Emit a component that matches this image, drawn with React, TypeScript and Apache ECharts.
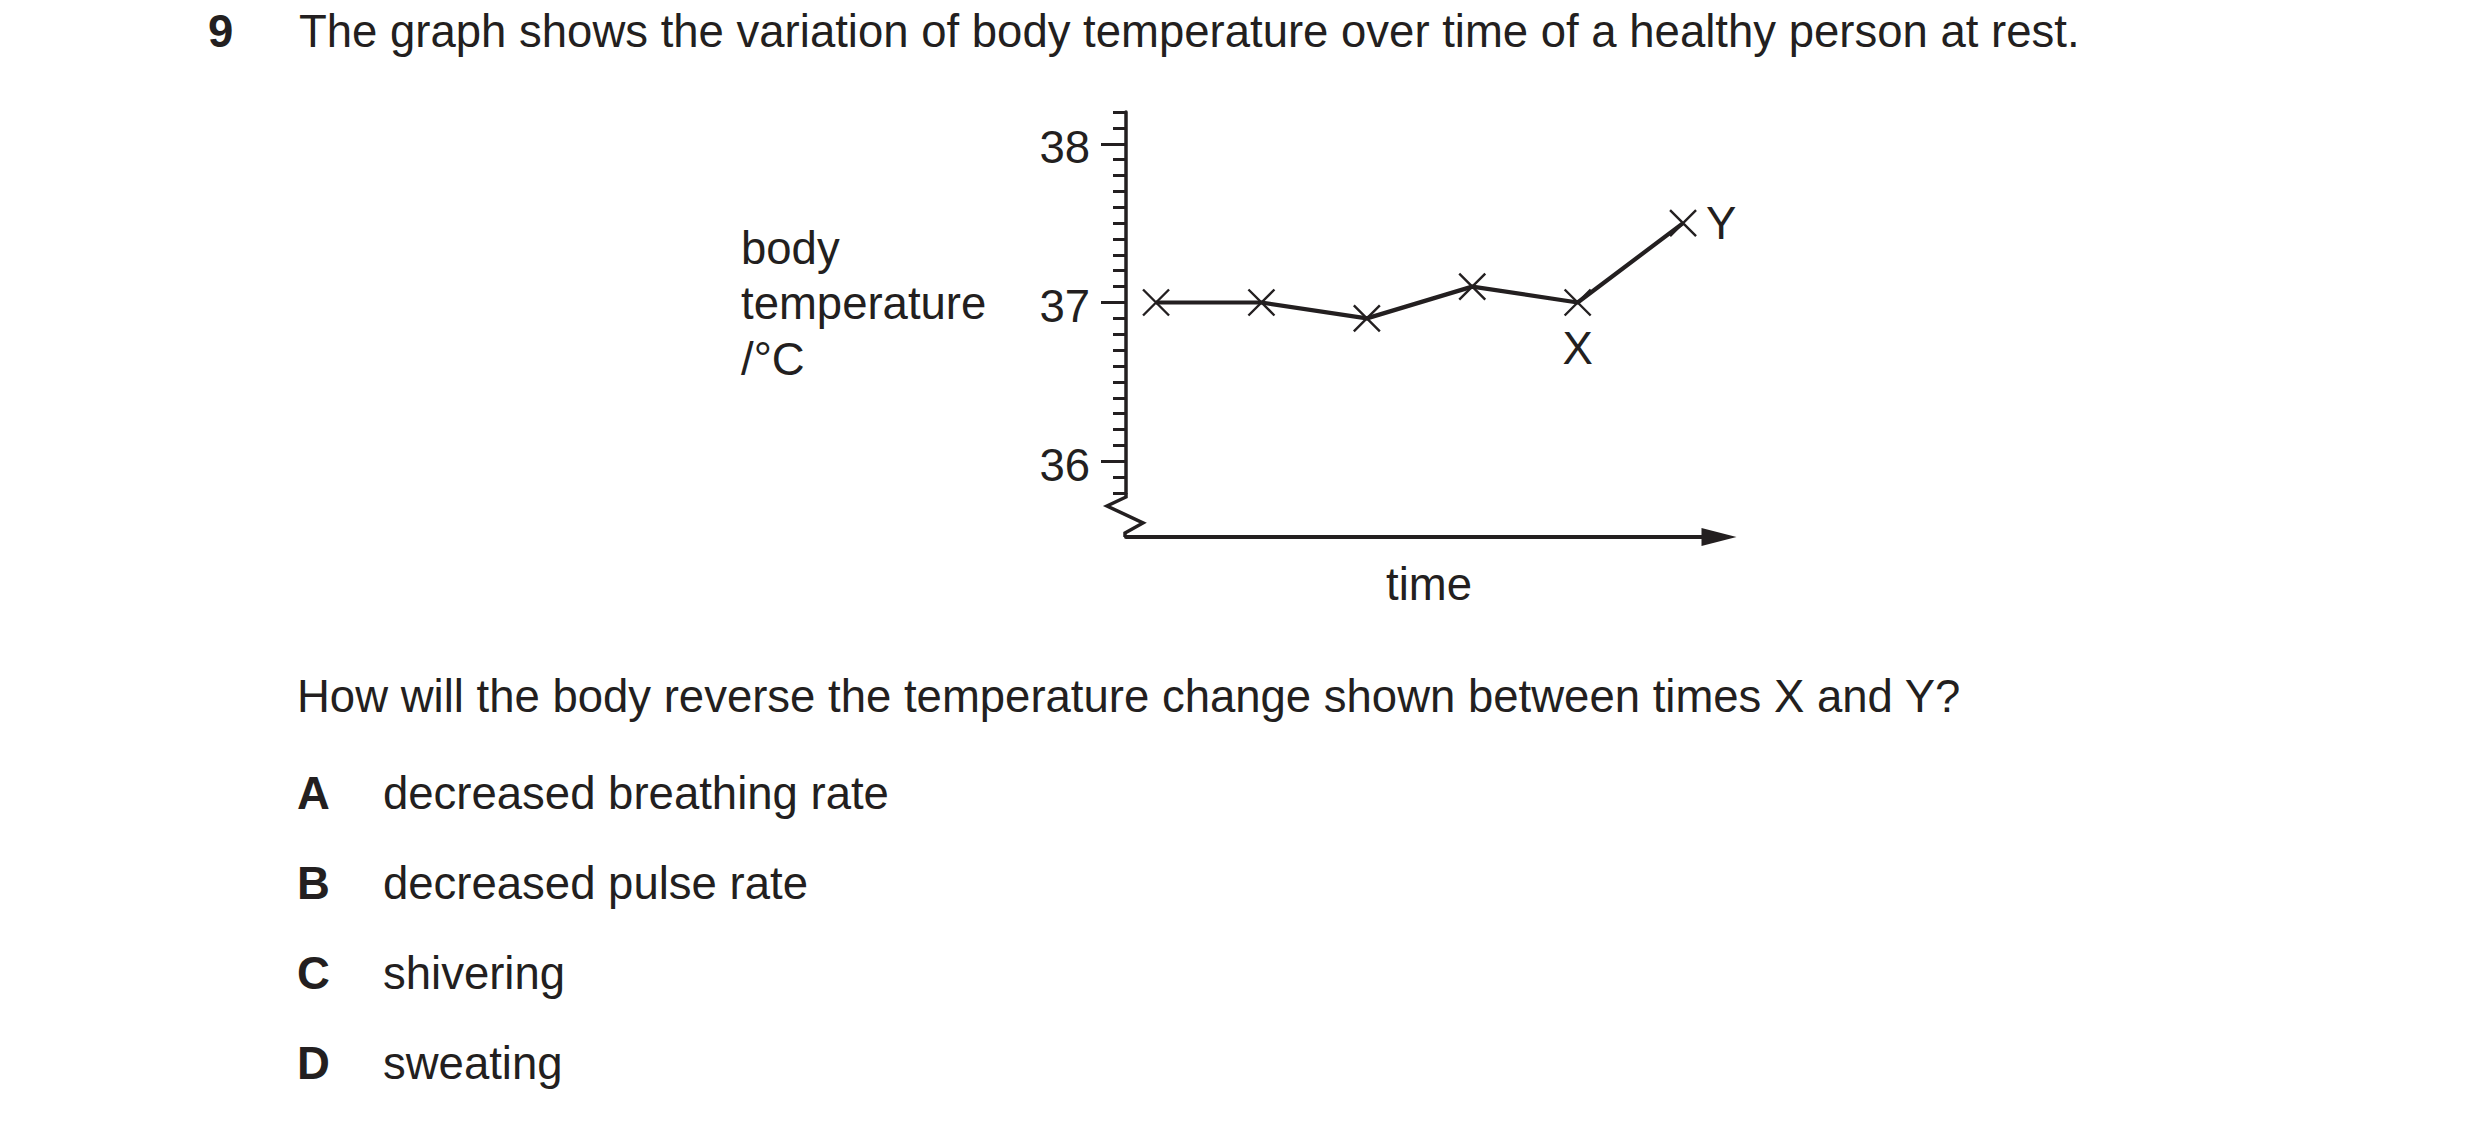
import { useEffect, useRef } from "react";
import * as echarts from "echarts";

// question text
const questionNumber = "9";
const questionText =
  "The graph shows the variation of body temperature over time of a healthy person at rest.";
const promptText =
  "How will the body reverse the temperature change shown between times X and Y?";
const answerLetters = ["A", "B", "C", "D"];
const answerTexts = [
  "decreased breathing rate",
  "decreased pulse rate",
  "shivering",
  "sweating",
];

// graph data
const times = [1, 2, 3, 4, 5, 6];
const temperatures = [37.0, 37.0, 36.9, 37.1, 37.0, 37.5];
const pointLabels = ["", "", "", "", "X", "Y"];
const majorTicks = [36, 37, 38];
const yTitleLines = ["body", "temperature", "/°C"];
const xTitle = "time";

const INK = "#231f20";
const FONT = "'Liberation Sans', Arial, Helvetica, sans-serif";
const FS = 45.5;
const W = 2480;
const H = 1127;

const GRID = { left: 1126, top: 112, right: 761, bottom: 634 };
const X_AXIS_OFFSET = 44;

function textEl(text: string, x: number, y: number, opts: Record<string, unknown> = {}) {
  return {
    type: "text",
    x,
    y,
    silent: true,
    style: {
      text,
      fill: INK,
      fontSize: FS,
      fontFamily: FONT,
      align: "left",
      verticalAlign: "middle",
      ...opts,
    },
  };
}

function buildOption(): echarts.EChartsOption {
  const baseY = H - GRID.bottom;
  const x0 = GRID.left;

  const labelOffsets: Record<string, number[]> = { X: [0, 46], Y: [38, 0] };

  const graphic: any[] = [
    textEl(questionNumber, 208, 31, { fontWeight: "bold" }),
    textEl(questionText, 299, 31),
    ...yTitleLines.map((t, i) => textEl(t, 741, 248 + i * 55.5)),
    textEl(xTitle, 1429, 584, { align: "center" }),
    textEl(promptText, 297, 696),
    ...answerLetters.map((l, i) => textEl(l, 297, 793 + i * 90.3, { fontWeight: "bold" })),
    ...answerTexts.map((t, i) => textEl(t, 383, 793 + i * 90.3)),
    {
      type: "polyline",
      silent: true,
      shape: {
        points: [
          [x0, baseY],
          [x0, baseY + 4],
          [x0 - 19, baseY + 13],
          [x0 + 17, baseY + 30],
          [x0 - 1, baseY + 40],
          [x0 - 1, baseY + X_AXIS_OFFSET],
        ],
      },
      style: { stroke: INK, lineWidth: 3.5, fill: "none", lineJoin: "miter" },
    },
  ];

  return {
    animation: false,
    backgroundColor: "#ffffff",
    grid: { ...GRID, containLabel: false },
    xAxis: {
      type: "value",
      min: 0.715,
      max: 6.341,
      offset: X_AXIS_OFFSET,
      axisLine: {
        show: true,
        onZero: false,
        symbol: ["none", "triangle"],
        symbolSize: [18, 35],
        lineStyle: { color: INK, width: 4 },
      },
      axisTick: { show: false },
      axisLabel: { show: false },
      splitLine: { show: false },
    },
    yAxis: [
      {
        type: "value",
        min: 35.8,
        max: 38.2,
        interval: 0.1,
        axisLine: { show: true, lineStyle: { color: INK, width: 3.5 } },
        axisTick: { show: true, inside: false, length: 13, lineStyle: { color: INK, width: 3 } },
        axisLabel: { show: false },
        splitLine: { show: false },
      },
      {
        type: "value",
        min: 35.8,
        max: 38.2,
        position: "left",
        axisLine: { show: false },
        axisTick: {
          show: true,
          inside: false,
          length: 25,
          customValues: majorTicks,
          lineStyle: { color: INK, width: 3 },
        },
        axisLabel: {
          show: true,
          customValues: majorTicks,
          margin: 36,
          formatter: "{t|{value}}",
          rich: {
            t: {
              color: INK,
              fontSize: FS,
              fontFamily: FONT,
              padding: [8, 0, 0, 0],
            },
          },
        },
        splitLine: { show: false },
      },
    ],
    series: [
      {
        type: "line",
        yAxisIndex: 0,
        clip: false,
        data: times.map((t, i) => {
          const lbl = pointLabels[i];
          return {
            value: [t, temperatures[i]],
            label: lbl
              ? {
                  show: true,
                  formatter: lbl,
                  position: "inside",
                  offset: labelOffsets[lbl],
                  color: INK,
                  fontSize: FS,
                  fontFamily: FONT,
                }
              : { show: false },
          };
        }),
        symbol: "path://M0,0L10,10M10,0L0,10",
        symbolSize: 26,
        showAllSymbol: true,
        lineStyle: { color: INK, width: 4.2 },
        itemStyle: { color: "rgba(0,0,0,0)", borderColor: INK, borderWidth: 2.4 },
        emphasis: { disabled: true },
      },
    ],
    graphic,
  } as echarts.EChartsOption;
}

export default function App() {
  const chartRef = useRef<HTMLDivElement>(null);

  useEffect(() => {
    if (!chartRef.current) return;
    const chart = echarts.init(chartRef.current, undefined, { renderer: "svg" });
    chart.setOption(buildOption());
    return () => {
      chart.dispose();
    };
  }, []);

  return (
    <div
      ref={chartRef}
      style={{ position: "absolute", left: 0, top: 0, width: W, height: H, background: "#fff" }}
    />
  );
}
